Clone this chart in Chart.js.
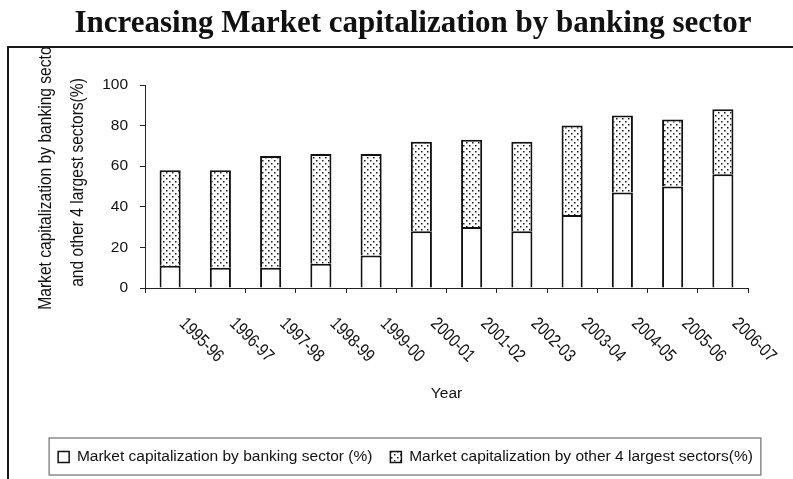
<!DOCTYPE html>
<html><head><meta charset="utf-8">
<script src="https://cdn.jsdelivr.net/npm/chart.js@4"></script>
<style>html,body{margin:0;padding:0;background:#fff}#wrap{width:793px;height:479px}</style>
</head><body><div id="wrap"><canvas id="c" width="793" height="479"></canvas></div>
<script>
const years = ['1995-96','1996-97','1997-98','1998-99','1999-00','2000-01','2001-02','2002-03','2003-04','2004-05','2005-06','2006-07'];
const bankingShare = [11, 10, 10, 12, 16, 28, 30, 28, 36, 47, 50, 56];
const otherShare = [47, 48, 55, 54, 50, 44, 43, 44, 44, 38, 33, 32];
const yTicks = [0, 20, 40, 60, 80, 100];
const seriesNames = ['Market capitalization by banking sector (%)', 'Market capitalization by other 4 largest sectors(%)'];
const chartTitle = 'Increasing Market capitalization by banking sector';
const yTitleLines = ['Market capitalization by banking sector', 'and other 4 largest sectors(%)'];
const xTitle = 'Year';

const SANS = '"Liberation Sans", Arial, sans-serif';
const INK = '#111';

function dotPattern() {
  const p = document.createElement('canvas');
  p.width = 6; p.height = 6;
  const g = p.getContext('2d');
  g.fillStyle = '#fff'; g.fillRect(0, 0, 6, 6);
  g.fillStyle = '#1a1a1a';
  g.fillRect(1, 1, 1.5, 1.5);
  g.fillRect(4, 4, 1.5, 1.5);
  return g.createPattern(p, 'repeat');
}

// draw condensed text (emulates a narrow face) along current orientation
function narrowText(ctx, text, x, y, align) {
  ctx.save();
  ctx.translate(x, y);
  ctx.scale(0.82, 1);
  ctx.textAlign = align;
  ctx.textBaseline = 'middle';
  ctx.fillText(text, 0, 0);
  ctx.restore();
}

const decor = {
  id: 'decor',
  beforeDraw(chart) {
    const ctx = chart.ctx;
    ctx.save();
    ctx.fillStyle = '#fff';
    ctx.fillRect(0, 0, chart.width, chart.height);
    ctx.strokeStyle = '#1a1a1a';
    ctx.lineWidth = 2;
    ctx.beginPath();
    ctx.moveTo(8, chart.height + 5);
    ctx.lineTo(8, 47);
    ctx.lineTo(chart.width + 5, 47);
    ctx.stroke();
    ctx.restore();
  },
  afterDraw(chart) {
    const ctx = chart.ctx;
    const ca = chart.chartArea;
    // main title
    ctx.save();
    ctx.font = 'bold 31px "Liberation Serif", "Times New Roman", serif';
    ctx.fillStyle = INK;
    ctx.textAlign = 'center';
    ctx.textBaseline = 'alphabetic';
    ctx.fillText(chartTitle, 413, 32);
    ctx.restore();
    // y axis title (two lines, first one clipped by frame)
    ctx.save();
    ctx.beginPath();
    ctx.rect(9, 48, 110, chart.height);
    ctx.clip();
    ctx.font = '19px ' + SANS;
    ctx.fillStyle = INK;
    const cy = (ca.top + ca.bottom) / 2 - 4;
    [[46, -7], [78, 0]].forEach(([x, dy], i) => {
      ctx.save();
      ctx.translate(x, cy + dy);
      ctx.rotate(-Math.PI / 2);
      narrowText(ctx, yTitleLines[i], 0, 0, 'center');
      ctx.restore();
    });
    ctx.restore();
    // x tick labels rotated clockwise
    const xs = chart.scales.x;
    ctx.save();
    ctx.font = '18px ' + SANS;
    ctx.fillStyle = INK;
    chart.data.labels.forEach((lab, i) => {
      const px = xs.getPixelForValue(i);
      ctx.save();
      ctx.translate(px + 12, xs.top + 33);
      ctx.rotate(Math.PI / 4);
      narrowText(ctx, lab, 0, 0, 'left');
      ctx.restore();
    });
    ctx.restore();
    // legend frame
    const hb = chart.legend && chart.legend.legendHitBoxes;
    if (hb && hb.length) {
      const a = hb[0], b = hb[hb.length - 1];
      const mid = a.top + a.height / 2;
      ctx.save();
      ctx.strokeStyle = '#8a8a8a';
      ctx.lineWidth = 1.5;
      ctx.strokeRect(a.left - 9, mid - 19, (b.left + b.width) - a.left + 17, 37);
      ctx.restore();
    }
  }
};

const pattern = dotPattern();

new Chart(document.getElementById('c'), {
  type: 'bar',
  data: {
    labels: years,
    datasets: [
      {
        label: seriesNames[0],
        data: bankingShare,
        backgroundColor: '#ffffff',
        borderColor: INK,
        borderWidth: {top: 2, left: 2, right: 2, bottom: 0},
        borderSkipped: false,
        categoryPercentage: 1,
        barPercentage: 0.42
      },
      {
        label: seriesNames[1],
        data: otherShare,
        backgroundColor: pattern,
        borderColor: INK,
        borderWidth: {top: 2, left: 2, right: 2, bottom: 0},
        borderSkipped: false,
        categoryPercentage: 1,
        barPercentage: 0.42
      }
    ]
  },
  options: {
    responsive: false,
    animation: false,
    devicePixelRatio: 1,
    layout: {padding: {top: 85, left: 18, right: 0, bottom: 4.25}},
    plugins: {
      title: {display: false},
      tooltip: {enabled: false},
      legend: {
        display: true,
        position: 'bottom',
        labels: {
          boxWidth: 11,
          boxHeight: 11,
          padding: 18,
          color: INK,
          font: {family: SANS, size: 15.5}
        }
      }
    },
    scales: {
      x: {
        stacked: true,
        offset: true,
        grid: {display: true, offset: true, drawOnChartArea: false, drawTicks: true, tickLength: 5, color: '#222'},
        border: {display: true, color: '#222', width: 1},
        ticks: {display: false},
        title: {display: true, text: xTitle, color: INK, font: {family: SANS, size: 15.5}, padding: {top: 0, bottom: 28}},
        afterFit(s) { s.height = 143.25; }
      },
      y: {
        stacked: true,
        min: 0,
        max: 100,
        afterBuildTicks(s) { s.ticks = yTicks.map(v => ({value: v})); },
        ticks: {padding: 12, color: INK, font: {family: SANS, size: 15.5}},
        grid: {display: true, drawOnChartArea: false, drawTicks: true, tickLength: 5, color: '#222'},
        border: {display: true, color: '#222', width: 1},
        afterFit(s) { s.width = 127; }
      },
      yR: {
        type: 'linear',
        position: 'right',
        display: true,
        grid: {display: false},
        border: {display: false},
        ticks: {display: false},
        afterFit(s) { s.width = 45; }
      }
    }
  },
  plugins: [decor]
});
</script>
</body></html>
